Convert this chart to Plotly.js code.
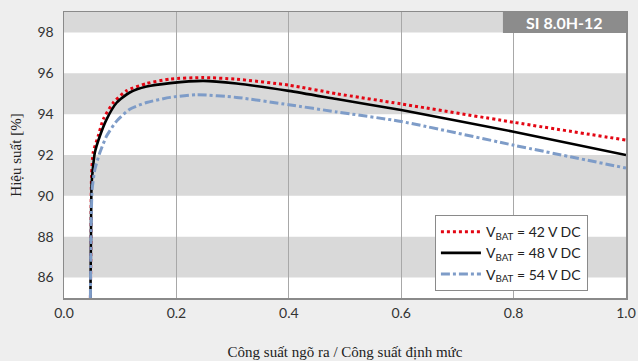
<!DOCTYPE html>
<html>
<head>
<meta charset="utf-8">
<script src="https://cdn.plot.ly/plotly-3.0.1.min.js"></script>
<style>html,body{margin:0;padding:0;background:#eeeeee;}#chart{width:638px;height:361px;}</style>
</head>
<body>
<div id="chart"></div>
<script>
// Series data
const x42 = [0.047, 0.048, 0.049, 0.052, 0.061, 0.07, 0.088, 0.111, 0.147, 0.189, 0.248, 0.307, 0.4, 0.485, 0.6, 0.8, 1.0];
const y42 = [85, 88, 91, 92.13, 92.94, 93.76, 94.57, 95.14, 95.5, 95.72, 95.79, 95.71, 95.42, 95.0, 94.5, 93.6, 92.73];

const x48 = [0.047, 0.048, 0.049, 0.052, 0.055, 0.064, 0.076, 0.094, 0.117, 0.147, 0.189, 0.248, 0.307, 0.4, 0.485, 0.6, 0.8, 1.0];
const y48 = [85, 88, 90.5, 91.5, 92.13, 92.94, 93.76, 94.57, 95.06, 95.35, 95.52, 95.63, 95.5, 95.14, 94.74, 94.2, 93.14, 92.0];

const x54 = [0.047, 0.048, 0.05, 0.055, 0.064, 0.076, 0.094, 0.117, 0.147, 0.189, 0.236, 0.307, 0.4, 0.485, 0.6, 0.8, 1.0];
const y54 = [85, 88, 90.3, 91.3, 92.13, 92.94, 93.67, 94.24, 94.57, 94.82, 94.95, 94.82, 94.46, 94.11, 93.64, 92.48, 91.36];

const seriesNames = ["V<sub>BAT</sub> = 42 V DC", "V<sub>BAT</sub> = 48 V DC", "V<sub>BAT</sub> = 54 V DC"];
const xTicks = [0.0, 0.2, 0.4, 0.6, 0.8, 1.0];
const yTicks = [86, 88, 90, 92, 94, 96, 98];
const bandStarts = [86, 90, 94, 98];
const bandHeight = 2;
const modelLabel = "SI 8.0H-12";
const xTitle = "Công suất ngõ ra / Công suất định mức";
const yTitle = "Hiệu suất [%]";

const traces = [
  {x: x42, y: y42, name: seriesNames[0], mode: "lines",
   line: {color: "#e30613", width: 3, dash: "dot", shape: "spline", smoothing: 0.6}},
  {x: x48, y: y48, name: seriesNames[1], mode: "lines",
   line: {color: "#000000", width: 2.6, shape: "spline", smoothing: 0.6}},
  {x: x54, y: y54, name: seriesNames[2], mode: "lines",
   line: {color: "#7e9cc8", width: 3, dash: "dashdot", shape: "spline", smoothing: 0.6}}
];

const shapes = bandStarts.map(b => ({
  type: "rect", xref: "paper", yref: "y", x0: 0, x1: 1, y0: b, y1: Math.min(b + bandHeight, 99),
  fillcolor: "#d9d9d9", line: {width: 0}, layer: "below"
}));
shapes.push({type: "rect", xref: "paper", yref: "paper", x0: 0.781, x1: 1, y0: 0.927, y1: 1,
  fillcolor: "#8c8c8c", line: {width: 0}, layer: "above"});

const layout = {
  width: 638, height: 361,
  margin: {l: 64, r: 12, t: 12, b: 63},
  paper_bgcolor: "#eeeeee",
  plot_bgcolor: "#ffffff",
  font: {family: "Lato, 'DejaVu Sans', sans-serif", size: 14, color: "#333333"},
  showlegend: true,
  legend: {x: 0.66, y: 0.29, xanchor: "left", yanchor: "top",
    bgcolor: "#ffffff", bordercolor: "#8a8a8a", borderwidth: 1,
    font: {family: "Lato, sans-serif", size: 14, color: "#222"},
    itemwidth: 40, tracegroupgap: 0},
  xaxis: {
    range: [0, 1], tickvals: xTicks, ticktext: xTicks.map(v => v.toFixed(1)),
    showgrid: true, gridcolor: "#a8a8a8", gridwidth: 1.3,
    showline: true, linecolor: "#8a8a8a", linewidth: 1.5, mirror: true,
    zeroline: false, ticks: "", ticklabelstandoff: 2,
    title: {text: xTitle, font: {family: "'Liberation Serif', 'DejaVu Serif', serif", size: 15, color: "#222"}, standoff: 26}
  },
  yaxis: {
    range: [85, 99], tickvals: yTicks,
    showgrid: false,
    showline: true, linecolor: "#8a8a8a", linewidth: 1.5, mirror: true,
    zeroline: false, ticks: "", ticklabelstandoff: 6,
    title: {text: yTitle, font: {family: "'Liberation Serif', 'DejaVu Serif', serif", size: 15, color: "#222"}, standoff: 12}
  },
  shapes: shapes,
  annotations: [{xref: "paper", yref: "paper", x: 0.89, y: 0.9635, xanchor: "center", yanchor: "middle",
    text: "<b>" + modelLabel + "</b>", showarrow: false,
    font: {family: "Lato, sans-serif", size: 16, color: "#ffffff"}}]
};

Plotly.newPlot("chart", traces, layout, {displayModeBar: false, staticPlot: true});
</script>
</body>
</html>
